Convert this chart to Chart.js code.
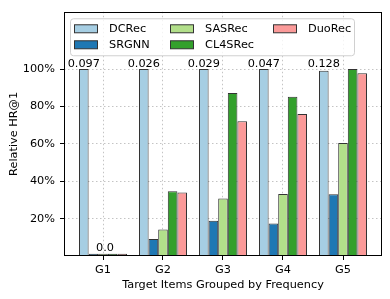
<!DOCTYPE html>
<html>
<head>
<meta charset="utf-8">
<script src="https://cdn.jsdelivr.net/npm/chart.js@4.4.0/dist/chart.umd.min.js"></script>
<style>
    html, body { margin: 0; padding: 0; background: #fff; }
    #wrap { width: 390px; height: 299px; }
</style>
</head>
<body>
<div id="wrap"><canvas id="myChart"></canvas></div>
<script>
"use strict"

const groups = ["G1", "G2", "G3", "G4", "G5"]
const modelNames = ["DCRec", "SRGNN", "SASRec", "CL4SRec", "DuoRec"]
const dcrec = [100, 100, 100, 100, 99.1]
const srgnn = [1.2, 9.1, 18.9, 17.4, 33.0]
const sasrec = [1.2, 14.2, 30.7, 33.2, 60.4]
const cl4srec = [1.2, 34.6, 87.2, 85.1, 100]
const duorec = [1.2, 33.9, 72.1, 75.9, 97.7]
const topLabels = ["0.097", "0.026", "0.029", "0.047", "0.128"]
const lowLabel = "0.0"
const yTicks = [20, 40, 60, 80, 100]
const colors = ["#a6cee3", "#1f78b4", "#b2df8a", "#33a02c", "#fb9a99"]

const FONT = "'DejaVu Sans', sans-serif"
const FONT_SIZE = 11.3
Chart.defaults.font.family = FONT
Chart.defaults.font.size = FONT_SIZE
Chart.defaults.color = "#000"

let seriesList = [dcrec, srgnn, sasrec, cl4srec, duorec]
let datasets = []
for (let i = 0; i < seriesList.length; i++) {
    datasets.push({
        label: modelNames[i],
        data: seriesList[i].map((v, j) => ({ x: j, y: v })),
        backgroundColor: colors[i],
        borderColor: "#333",
        borderWidth: 1,
        borderSkipped: false,
        barPercentage: 1,
        categoryPercentage: 0.8
    })
}

// axes frame like matplotlib spines
const framePlugin = {
    id: "frame",
    afterDatasetsDraw(chart) {
        const a = chart.chartArea
        const ctx = chart.ctx
        ctx.save()
        ctx.strokeStyle = "#000"
        ctx.lineWidth = 1
        ctx.strokeRect(Math.round(a.left) + 0.5, Math.round(a.top) + 0.5, Math.round(a.right - a.left) - 1, Math.round(a.bottom - a.top) - 1)
        ctx.restore()
    }
}

// value labels above bars
const labelPlugin = {
    id: "barLabels",
    afterDatasetsDraw(chart) {
        const ctx = chart.ctx
        const y = chart.scales.y
        const meta0 = chart.getDatasetMeta(0)
        ctx.save()
        ctx.font = FONT_SIZE + "px " + FONT
        ctx.fillStyle = "#000"
        ctx.textAlign = "center"
        ctx.textBaseline = "alphabetic"
        for (let i = 0; i < topLabels.length; i++) {
            ctx.fillText(topLabels[i], meta0.data[i].x, y.getPixelForValue(100) - 2)
        }
        const bar = chart.getDatasetMeta(2).data[0]
        ctx.fillText(lowLabel, bar.x + 2, bar.y - 3)
        ctx.restore()
    }
}

// matplotlib style legend, 3 columns filled column by column
const legendPlugin = {
    id: "mplLegend",
    afterDraw(chart) {
        const ctx = chart.ctx
        const a = chart.chartArea
        const bx = a.left + 6, by = a.top + 6.5, bw = 284, bh = 37
        ctx.save()
        ctx.beginPath()
        ctx.roundRect(bx + 0.5, by + 0.5, bw, bh, 3)
        ctx.fillStyle = "rgba(255,255,255,0.8)"
        ctx.fill()
        ctx.strokeStyle = "#d0d0d0"
        ctx.lineWidth = 1
        ctx.stroke()
        const colX = [bx + 4, bx + 100, bx + 203]
        const rowY = [by + 10, by + 26]
        ctx.font = FONT_SIZE + "px " + FONT
        ctx.textBaseline = "middle"
        ctx.textAlign = "left"
        for (let i = 0; i < chart.data.datasets.length; i++) {
            const ds = chart.data.datasets[i]
            const col = Math.floor(i / 2), row = i % 2
            const px = colX[col], py = rowY[row]
            ctx.fillStyle = ds.backgroundColor
            ctx.fillRect(px + 0.5, py - 3.5, 23, 8)
            ctx.strokeStyle = "#333"
            ctx.strokeRect(px + 0.5, py - 3.5, 23, 8)
            ctx.fillStyle = "#000"
            ctx.fillText(ds.label, px + 35, py + 0.5)
        }
        ctx.restore()
    }
}

const gridColor = "#c4c4c4"

const ctx = document.getElementById("myChart").getContext("2d")
const myChart = new Chart(ctx, {
    type: "bar",
    data: { datasets: datasets },
    options: {
        responsive: true,
        maintainAspectRatio: false,
        animation: false,
        layout: { padding: { top: 7, right: 8, left: 0, bottom: 0 } },
        plugins: {
            legend: { display: false },
            tooltip: { enabled: false }
        },
        scales: {
            x: {
                type: "linear",
                min: -0.65,
                max: 4.65,
                offset: false,
                afterBuildTicks: (scale) => { scale.ticks = groups.map((g, i) => ({ value: i })) },
                afterFit: (scale) => { scale.height = 43 },
                ticks: {
                    callback: (v) => groups[v],
                    padding: 3,
                    maxRotation: 0,
                    autoSkip: false
                },
                grid: {
                    offset: false,
                    color: gridColor,
                    tickColor: "#000",
                    tickBorderDash: [],
                    tickLength: 4,
                    drawTicks: true
                },
                border: { display: false, dash: [1.5, 2.5] },
                title: {
                    display: true,
                    text: "Target Items Grouped by Frequency",
                    padding: { top: 0, bottom: 7 }
                }
            },
            y: {
                min: 0,
                max: 130.6,
                afterBuildTicks: (scale) => { scale.ticks = yTicks.map((v) => ({ value: v })) },
                afterFit: (scale) => { scale.width = 64 },
                ticks: {
                    callback: (v) => v + "%",
                    padding: 5
                },
                grid: {
                    color: gridColor,
                    tickColor: "#000",
                    tickBorderDash: [],
                    tickLength: 4,
                    drawTicks: true
                },
                border: { display: false, dash: [1.5, 2.5] },
                title: {
                    display: true,
                    text: "Relative HR@1",
                    padding: { top: 7, bottom: 0 }
                }
            }
        }
    },
    plugins: [framePlugin, labelPlugin, legendPlugin]
})
</script>
</body>
</html>
